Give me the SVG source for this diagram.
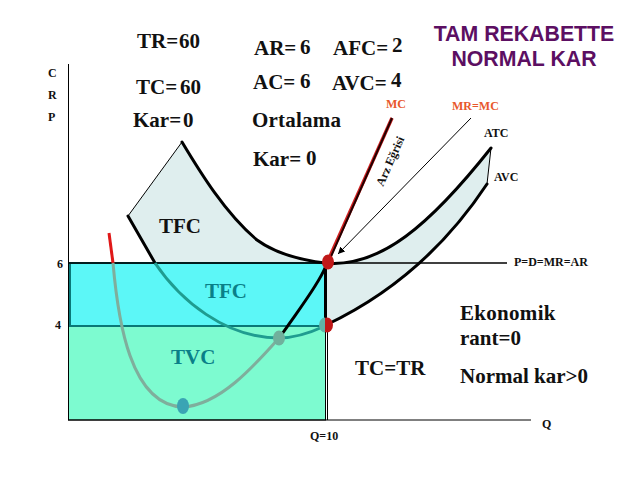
<svg xmlns="http://www.w3.org/2000/svg" width="638" height="479" viewBox="0 0 638 479">
<defs>
<marker id="ah" markerWidth="8" markerHeight="8" refX="7" refY="3.5" orient="auto" markerUnits="userSpaceOnUse"><path d="M0 0L7 3.5L0 7z" fill="#000"/></marker>
</defs>
<style>
text{font-family:"Liberation Serif","Times New Roman",serif;font-weight:bold;fill:#111}
.b{font-size:21px}
.s{font-size:12px}
.t{font-family:"Liberation Sans",Arial,sans-serif;font-size:21.3px;fill:#5c0f62;text-anchor:middle}
.r{fill:#e8582c}
.c{fill:none;stroke:#000;stroke-width:3;stroke-linecap:round}
.m{fill:none;stroke-width:3}
</style>
<rect width="638" height="479" fill="#fff"/>
<g id="shade">
<path d="M182 142L128 216L155 263L325 263C300 260 275 253 257 240C225 213 200 172 182 142Z" fill="#dfeeee"/>
<path d="M326 263C380 268 430 225 491 148L487 184C450 240 400 290 326 325Z" fill="#dfeeee"/>
</g>
<g id="rects">
<rect id="tvc-area" x="68.500" y="326" width="257" height="94" fill="#7dfbd0" stroke="#000" stroke-width="1"/>
<rect id="tfc-area" x="70" y="263" width="255" height="63" fill="#5cf7f7" stroke="#0a7878" stroke-width="2"/>
<line x1="327.500" y1="326" x2="327.500" y2="420" stroke="#000"/>
</g>
<g id="connectors">
<line x1="68.500" y1="64" x2="68.500" y2="420" stroke="#000"/>
<line x1="68" y1="420" x2="531" y2="420" stroke="#000"/>
<line x1="68" y1="263" x2="507" y2="263" stroke="#000" stroke-width="1.500"/>
<path class="c" d="M182 142C200 172 225 213 257 240C275 253 300 260 325 263"/>
<path class="c" d="M128 216L155 263"/>
<path class="c" d="M326 263C380 268 430 225 491 148"/>
<path d="M491 148L487 184" fill="none" stroke="#000" stroke-width="1"/>
<path d="M182 142L128 216" fill="none" stroke="#000" stroke-width="1"/>
<path class="c" d="M487 184C450 240 400 290 326 325"/>
<path class="m" stroke="#e01818" d="M109 233L113 263"/>
<path class="m" stroke="#7fae9c" d="M113 263C118 320 130 405 183 407C220 405 255 365 279 338"/>
<path class="m" stroke="#1f9c90" d="M155 263C180 300 225 338 279 338C297 338 312 332 325 326"/>
<path class="c" d="M282 334C300 308 318 285 325 268"/>
<path d="M327 263L392 118" fill="none" stroke="#d02020" stroke-width="3.500"/>
<path d="M329 261L392 118" fill="none" stroke="#200" stroke-width="2"/>
<line x1="325.500" y1="263" x2="325.500" y2="326" stroke="#000" stroke-width="3"/>
<line x1="471" y1="118" x2="338" y2="254" stroke="#000" stroke-width="1" marker-end="url(#ah)"/>
</g>
<g id="points">
<ellipse cx="328" cy="262" rx="6" ry="7.500" fill="#c01818"/>
<ellipse cx="327" cy="325" rx="6" ry="7.500" fill="#c01818"/>
<path d="M325 317.500A6 7.500 0 0 0 325 332.500Z" fill="#5fb4a8"/>
<ellipse cx="279" cy="338" rx="6" ry="7.500" fill="#70b09c"/>
<ellipse cx="183" cy="406" rx="6" ry="8" fill="#3aa4b4"/>
</g>
<g id="labels">
<text class="b" x="137" y="48">TR=</text><text class="b" x="179" y="48">60</text>
<text class="b" x="254" y="55">AR=</text><text class="b" x="300" y="54">6</text>
<text class="b" x="333" y="55">AFC=</text><text class="b" x="392" y="52">2</text>
<text class="b" x="136" y="94">TC=</text><text class="b" x="180" y="94">60</text>
<text class="b" x="253" y="89">AC=</text><text class="b" x="300" y="88">6</text>
<text class="b" x="332" y="90">AVC=</text><text class="b" x="391" y="87">4</text>
<text class="b" x="133" y="127">Kar=</text><text class="b" x="183" y="127">0</text>
<text class="b" x="252" y="127" letter-spacing="0.200">Ortalama</text>
<text class="b" x="253" y="166">Kar=</text><text class="b" x="306" y="165">0</text>
<text class="t" x="524" y="41">TAM REKABETTE</text>
<text class="t" x="524" y="66">NORMAL KAR</text>
<text class="s" x="48" y="77">C</text>
<text class="s" x="48" y="99">R</text>
<text class="s" x="48" y="121">P</text>
<text class="s" x="57" y="268">6</text>
<text class="s" x="55" y="329">4</text>
<text class="s r" x="386" y="108">MC</text>
<text class="s r" x="452" y="110">MR=MC</text>
<text class="s" x="484" y="137">ATC</text>
<text class="s" x="494" y="181">AVC</text>
<text class="s" x="514" y="266">P=D=MR=AR</text>
<text class="s" x="310" y="440">Q=10</text>
<text class="s" x="542" y="428">Q</text>
<text x="0" y="0" font-size="12" transform="translate(383 187) rotate(-66)">Arz Eğrisi</text>
<text class="b" x="159" y="233">TFC</text>
<text class="b" x="205" y="298" style="fill:#0a7f88">TFC</text>
<text class="b" x="171" y="364" style="fill:#0a7f88">TVC</text>
<text class="b" x="355" y="375">TC=TR</text>
<text class="b" x="460" y="320" letter-spacing="0.300">Ekonomik</text>
<text class="b" x="460" y="345">rant=0</text>
<text class="b" x="460" y="383">Normal kar&gt;0</text>
</g>
</svg>
